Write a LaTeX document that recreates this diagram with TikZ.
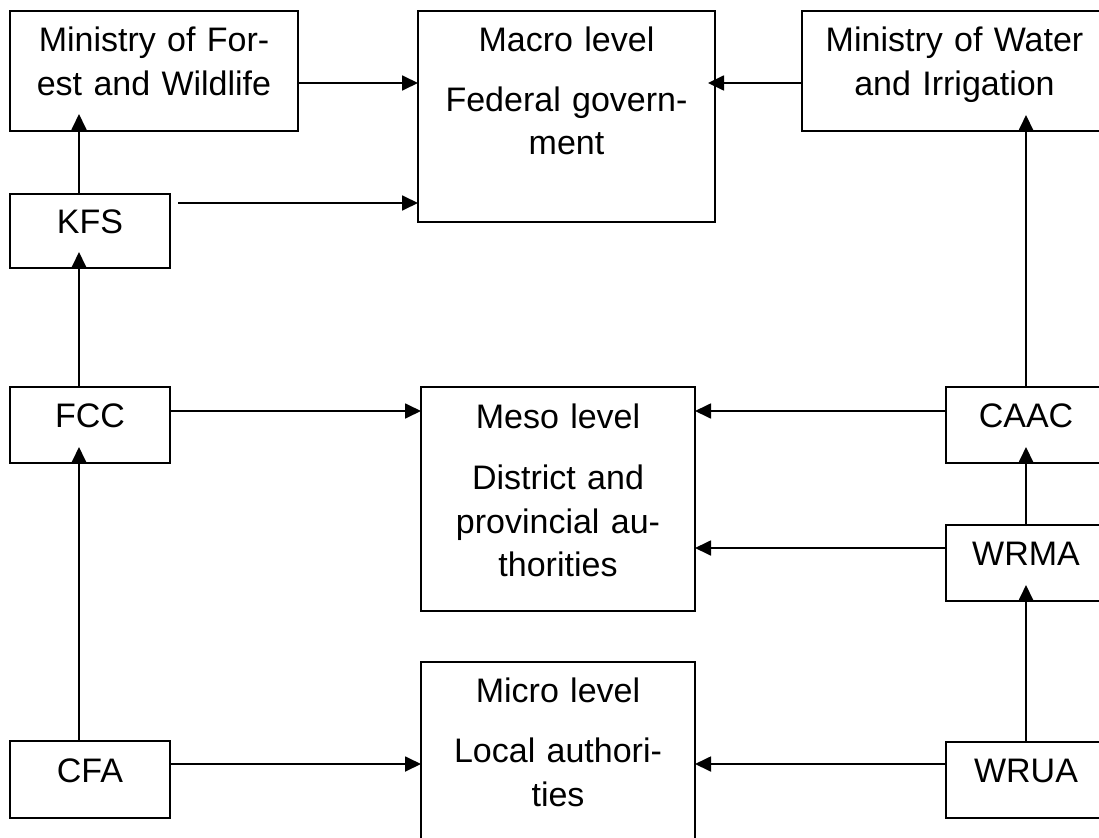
\documentclass[tikz,border=0pt]{standalone}
\usepackage{fontspec}
\setmainfont{Liberation Sans}
\usetikzlibrary{arrows.meta,calc}
\begin{document}
\begin{tikzpicture}[x=1pt,y=-1pt,
  box/.style={draw, line width=1.8pt, inner sep=0pt, outer sep=0pt, anchor=north west},
  txt/.style={font=\fontsize{34}{43.5}\selectfont, text width=300pt, align=center, anchor=base, inner sep=0pt},
  arr/.style={line width=1.8pt, -{Triangle[length=16pt,width=15pt]}}]
\useasboundingbox (0,0) rectangle (1099,837);
% boxes
\node[box, minimum width=288pt, minimum height=120pt] (minf) at (10,11) {};
\node[box, minimum width=297pt, minimum height=211pt] (macro) at (418,11) {};
\node[box, minimum width=305pt, minimum height=120pt] (minw) at (802,11) {};
\node[box, minimum width=160pt, minimum height=74pt] (kfs) at (10,194) {};
\node[box, minimum width=160pt, minimum height=76pt] (fcc) at (10,387) {};
\node[box, minimum width=160pt, minimum height=77pt] (cfa) at (10,741) {};
\node[box, minimum width=274pt, minimum height=224pt] (meso) at (421,387) {};
\node[box, minimum width=274pt, minimum height=200pt] (micro) at (421,662) {};
\node[box, minimum width=160pt, minimum height=76pt] (caac) at (946,387) {};
\node[box, minimum width=160pt, minimum height=76pt] (wrma) at (946,525) {};
\node[box, minimum width=160pt, minimum height=76pt] (wrua) at (946,742) {};
% texts
\node[txt] (minft) at ($(minf.north)+(0,41)$) {Ministry of For-\\est and Wildlife};
\node[txt] (macrot) at ($(macro.north)+(0,41)$) {Macro level\\[16pt]Federal govern-\\ment};
\node[txt] (minwt) at ($(minw.north)+(0,41)$) {Ministry of Water\\and Irrigation};
\node[txt] (kfst) at ($(kfs.north)+(0,39)$) {KFS};
\node[txt] (fcct) at ($(fcc.north)+(0,40)$) {FCC};
\node[txt] (cfat) at ($(cfa.north)+(0,41)$) {CFA};
\node[txt] (mesot) at ($(meso.north)+(0,41)$) {Meso level\\[18pt]District and\\provincial au-\\thorities};
\node[txt] (microt) at ($(micro.north)+(0,40)$) {Micro level\\[17pt]Local authori-\\ties};
\node[txt] (caact) at ($(caac.north)+(0,40)$) {CAAC};
\node[txt] (wrmat) at ($(wrma.north)+(0,40)$) {WRMA};
\node[txt] (wruat) at ($(wrua.north)+(0,40)$) {WRUA};
% horizontal connectors
\coordinate (a1) at ($(minf.east)+(0,12)$);
\draw[arr] (a1) -- (a1 -| macro.west);
\coordinate (a2) at ($(minw.west)+(0,12)$);
\draw[arr, shorten >=-7pt] (a2) -- (a2 -| macro.east);
\coordinate (a3) at ($(kfs.east)+(8,-28)$);
\draw[arr] (a3) -- (a3 -| macro.west);
\coordinate (a7) at ($(fcc.east)+(0,-14)$);
\draw[arr] (a7) -- (a7 -| meso.west);
\coordinate (a8) at ($(caac.west)+(0,-14)$);
\draw[arr] (a8) -- (a8 -| meso.east);
\coordinate (a9) at ($(wrma.west)+(0,-15)$);
\draw[arr] (a9) -- (a9 -| meso.east);
\coordinate (a10) at ($(cfa.east)+(0,-15.5)$);
\draw[arr] (a10) -- (a10 -| micro.west);
\coordinate (a11) at ($(wrua.west)+(0,-16)$);
\draw[arr] (a11) -- (a11 -| micro.east);
% vertical connectors
\coordinate (a4) at ($(kfs.north)+(-11,0)$);
\draw[arr, shorten >=-17pt] (a4) -- (a4 |- minf.south);
\coordinate (a5) at ($(fcc.north)+(-11,0)$);
\draw[arr, shorten >=-16pt] (a5) -- (a5 |- kfs.south);
\coordinate (a6) at ($(cfa.north)+(-11,0)$);
\draw[arr, shorten >=-16pt] (a6) -- (a6 |- fcc.south);
\draw[arr, shorten >=-16pt] (caac.north) -- (caac.north |- minw.south);
\draw[arr, shorten >=-16pt] (wrma.north) -- (wrma.north |- caac.south);
\draw[arr, shorten >=-16pt] (wrua.north) -- (wrua.north |- wrma.south);
\end{tikzpicture}
\end{document}
